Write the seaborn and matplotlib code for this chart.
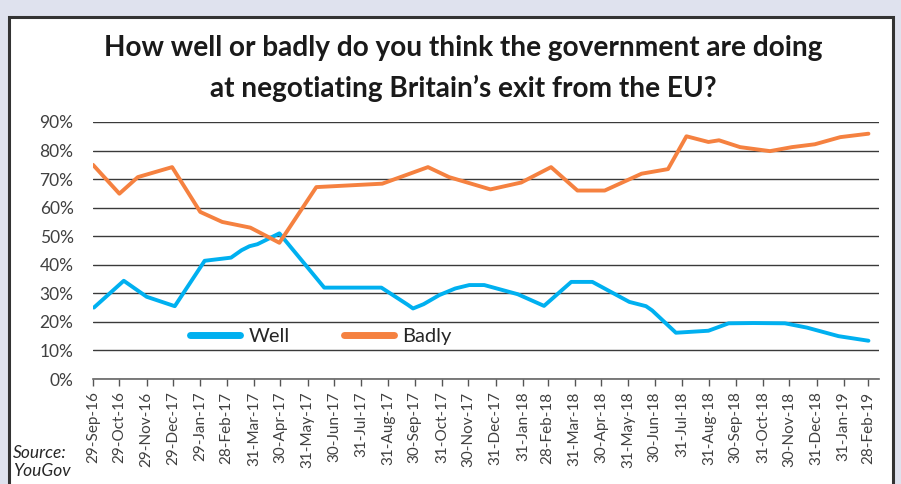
import matplotlib
matplotlib.use("Agg")
import matplotlib.pyplot as plt
import matplotlib.dates as mdates
from matplotlib.patches import Rectangle
import seaborn as sns
import pandas as pd

# ---- data -------------------------------------------------------------
well_dates = ["2016-09-30", "2016-11-03", "2016-11-29", "2016-12-31", "2017-02-03",
              "2017-03-05", "2017-03-17", "2017-03-26", "2017-04-04", "2017-04-29",
              "2017-06-19", "2017-08-23", "2017-09-22", "2017-09-28", "2017-10-10",
              "2017-10-28", "2017-11-15", "2017-12-01", "2017-12-18", "2018-01-25",
              "2018-02-24", "2018-03-27", "2018-04-20", "2018-06-01", "2018-06-20",
              "2018-06-27", "2018-07-24", "2018-08-30", "2018-09-22", "2018-10-20",
              "2018-11-25", "2018-12-20", "2019-01-25", "2019-02-28"]
well_values = [25.0, 34.4, 28.8, 25.5, 41.4,
               42.5, 45.1, 46.5, 47.2, 51.0,
               32.0, 32.0, 26.0, 24.7, 26.2,
               29.4, 31.7, 32.9, 32.9, 29.7,
               25.6, 34.0, 34.0, 27.0, 25.5,
               24.0, 16.2, 16.9, 19.5, 19.6,
               19.5, 18.0, 15.0, 13.4]

badly_dates = ["2016-09-29", "2016-10-29", "2016-11-19", "2016-12-28", "2017-01-29",
               "2017-02-23", "2017-03-27", "2017-04-29", "2017-06-10", "2017-08-24",
               "2017-10-15", "2017-11-08", "2017-12-25", "2018-01-29", "2018-03-04",
               "2018-04-03", "2018-05-04", "2018-06-15", "2018-07-15", "2018-08-05",
               "2018-08-30", "2018-09-11", "2018-10-05", "2018-11-08", "2018-12-03",
               "2018-12-29", "2019-01-27", "2019-02-28"]
badly_values = [75.0, 64.9, 70.7, 74.2, 58.5,
                55.0, 53.0, 47.7, 67.2, 68.4,
                74.2, 70.7, 66.4, 68.8, 74.2,
                66.0, 66.0, 71.9, 73.5, 85.0,
                83.0, 83.6, 81.2, 79.8, 81.2,
                82.2, 84.7, 85.9]

series_names = ["Well", "Badly"]
series_colors = ["#00B0F0", "#F58140"]

tick_dates = ["2016-09-29", "2016-10-29", "2016-11-29", "2016-12-29", "2017-01-29",
              "2017-02-28", "2017-03-31", "2017-04-30", "2017-05-31", "2017-06-30",
              "2017-07-31", "2017-08-31", "2017-09-30", "2017-10-31", "2017-11-30",
              "2017-12-31", "2018-01-31", "2018-02-28", "2018-03-31", "2018-04-30",
              "2018-05-31", "2018-06-30", "2018-07-31", "2018-08-31", "2018-09-30",
              "2018-10-31", "2018-11-30", "2018-12-31", "2019-01-31", "2019-02-28"]
tick_labels = ["29-Sep-16", "29-Oct-16", "29-Nov-16", "29-Dec-17", "29-Jan-17",
               "28-Feb-17", "31-Mar-17", "30-Apr-17", "31-May-17", "30-Jun-17",
               "31-Jul-17", "31-Aug-17", "30-Sep-17", "31-Oct-17", "30-Nov-17",
               "31-Dec-17", "31-Jan-18", "28-Feb-18", "31-Mar-18", "30-Apr-18",
               "31-May-18", "30-Jun-18", "31-Jul-18", "31-Aug-18", "30-Sep-18",
               "31-Oct-18", "30-Nov-18", "31-Dec-18", "31-Jan-19", "28-Feb-19"]
y_ticks = [0, 10, 20, 30, 40, 50, 60, 70, 80, 90]

title_lines = ["How well or badly do you think the government are doing",
               "at negotiating Britain\u2019s exit from the EU?"]
source_text = "Source:\nYouGov"

# ---- build table ------------------------------------------------------
df = pd.concat([
    pd.DataFrame({"date": pd.to_datetime(well_dates), "value": well_values, "series": "Well"}),
    pd.DataFrame({"date": pd.to_datetime(badly_dates), "value": badly_values, "series": "Badly"}),
], ignore_index=True)

# ---- style ------------------------------------------------------------
sns.set_theme(style="white")
plt.rcParams["font.family"] = ["Lato", "DejaVu Sans"]

W, H = 901, 484
fig = plt.figure(figsize=(W / 100, H / 100), dpi=100)
fig.patch.set_facecolor("#DFE2EE")

# white panel with dark frame (drawn behind everything)
panel = Rectangle((9 / W, -0.05), (893 - 9) / W, (H - 17) / H + 0.05,
                  transform=fig.transFigure, facecolor="white",
                  edgecolor="#333333", linewidth=2.2, zorder=-10)
fig.patches.append(panel)

ax = fig.add_axes([93 / W, (H - 379) / H, (879 - 93) / W, (379 - 122) / H])
ax.set_zorder(5)
ax.set_facecolor("none")

sns.lineplot(data=df, x="date", y="value", hue="series", hue_order=series_names,
             palette=series_colors, linewidth=2.8, ax=ax, estimator=None, sort=True)

ax.set_xlim(pd.Timestamp("2016-09-29"), pd.Timestamp("2019-03-12"))
ax.set_ylim(0, 90)
ax.set_yticks(y_ticks)
ax.set_yticklabels([f"{v}%" for v in y_ticks])
ax.yaxis.grid(True, color="#3a3a3a", linewidth=1.0)
ax.xaxis.grid(False)
ax.set_axisbelow(True)

ax.set_xticks(mdates.date2num(pd.to_datetime(tick_dates)))
ax.set_xticklabels(tick_labels, rotation=90)
ax.tick_params(axis="x", which="both", bottom=True, direction="out", length=5,
               width=1, color="#555555", labelsize=11, labelcolor="#404040", pad=4)
ax.tick_params(axis="y", left=False, labelsize=12.5, labelcolor="#404040", pad=8)

for s in ["left", "right", "top"]:
    ax.spines[s].set_visible(False)
ax.spines["bottom"].set_color("#666666")
ax.spines["bottom"].set_linewidth(1.2)
ax.set_xlabel("")
ax.set_ylabel("")

handles, labels = ax.get_legend_handles_labels()
for h in handles:
    h.set_linewidth(5)
    h.set_solid_capstyle("round")
leg = ax.legend(handles, labels, loc="center", bbox_to_anchor=(0.29, 0.167),
                ncol=2, frameon=False, fontsize=14.5, handlelength=2.5,
                columnspacing=2.7, handletextpad=0.4)
for t in leg.get_texts():
    t.set_color("#262626")

fig.text(463 / W, 1 - 48 / H, title_lines[0], ha="center", va="center",
         fontsize=20.2, fontweight="bold", color="#1a1a1a")
fig.text(463 / W, 1 - 88 / H, title_lines[1], ha="center", va="center",
         fontsize=20.2, fontweight="bold", color="#1a1a1a")

fig.text(13 / W, 1 - 462 / H, source_text, ha="left", va="center",
         fontsize=12.5, fontstyle="italic", color="#262626", linespacing=1.1)

fig.savefig("out.png", dpi=100, facecolor=fig.get_facecolor())
